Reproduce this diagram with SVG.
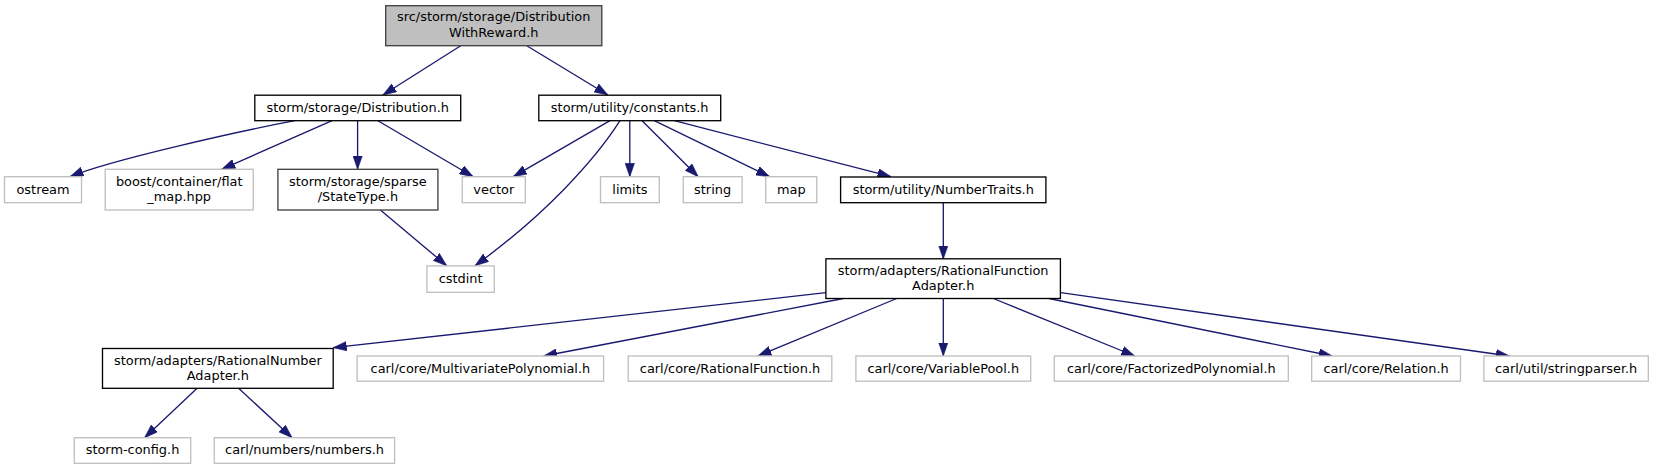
<svg xmlns="http://www.w3.org/2000/svg" width="1653" height="469" viewBox="0 0 1653 469">
<style>
.n rect{fill:#fff;stroke:#000;stroke-width:1.33}
.n.g rect{stroke:#bfbfbf}
.n.d rect{stroke:#404040}
.n.r rect{fill:#bfbfbf;stroke:#404040}
text{font-family:"DejaVu Sans",sans-serif;font-size:12.9px;text-anchor:middle;fill:#000}
.e path{fill:none;stroke:#191970;stroke-width:1.33}
</style>
<defs>
<marker id="ah" markerUnits="userSpaceOnUse" markerWidth="14" markerHeight="10" viewBox="0 0 14 10" refX="13.5" refY="5" orient="auto">
<path d="M0,0.3 L13.5,5 L0,9.7 z" fill="#191970" stroke="#191970" stroke-width="0.6"/>
</marker>
</defs>
<rect width="1653" height="469" fill="#fff"/>
<g id="edges" class="e">
<path marker-end="url(#ah)" d="M460.7,45.7 L382.9,95"/>
<path marker-end="url(#ah)" d="M526.8,45.7 L607.9,95"/>
<path marker-end="url(#ah)" d="M295,120.7 C240,131 110,160 70,176.7"/>
<path marker-end="url(#ah)" d="M332.1,120.7 L221.7,169.3"/>
<path marker-end="url(#ah)" d="M357.6,120.7 L357.6,169.3"/>
<path marker-end="url(#ah)" d="M377.9,120.7 L473.2,176.7"/>
<path marker-end="url(#ah)" d="M380.4,210 L446.7,265.7"/>
<path marker-end="url(#ah)" d="M610,120.7 L513.3,176.7"/>
<path marker-end="url(#ah)" d="M620,120.7 C595,160 545,215 475,265.7"/>
<path marker-end="url(#ah)" d="M629.8,120.7 L629.8,176.7"/>
<path marker-end="url(#ah)" d="M642.1,120.7 L698.2,176.7"/>
<path marker-end="url(#ah)" d="M654.3,120.7 L769.6,176.7"/>
<path marker-end="url(#ah)" d="M674.3,120.7 L891,176.7"/>
<path marker-end="url(#ah)" d="M943.3,202.7 L943.3,259"/>
<path marker-end="url(#ah)" d="M825.9,292.7 L333.2,347.7"/>
<path marker-end="url(#ah)" d="M843.3,298.5 L543.6,356"/>
<path marker-end="url(#ah)" d="M896.7,298.5 L757.9,356"/>
<path marker-end="url(#ah)" d="M943.3,298.5 L943.3,356"/>
<path marker-end="url(#ah)" d="M993.3,298.5 L1134.8,356"/>
<path marker-end="url(#ah)" d="M1048.9,298.5 L1332.2,356"/>
<path marker-end="url(#ah)" d="M1060.7,292.7 L1509.5,356"/>
<path marker-end="url(#ah)" d="M197.1,388.3 L144.6,437.7"/>
<path marker-end="url(#ah)" d="M238.6,388.3 L292.1,437.7"/>
</g>
<g id="root" class="n r"><rect x="385.7" y="5.7" width="216.1" height="40"/><text x="493.7" y="21.3">src/storm/storage/Distribution</text><text x="493.7" y="37">WithReward.h</text></g>
<g id="distribution" class="n"><rect x="254.8" y="95.2" width="205.9" height="25.5"/><text x="357.7" y="112">storm/storage/Distribution.h</text></g>
<g id="constants" class="n"><rect x="538.8" y="95.2" width="181.9" height="25.5"/><text x="629.7" y="112">storm/utility/constants.h</text></g>
<g id="ostream" class="n g"><rect x="4.5" y="176.7" width="77" height="26"/><text x="43" y="193.5">ostream</text></g>
<g id="flat_map" class="n g"><rect x="105.2" y="169.3" width="148" height="40.7"/><text x="179.2" y="185.5">boost/container/flat</text><text x="179.2" y="201">_map.hpp</text></g>
<g id="statetype" class="n d"><rect x="277.9" y="169.3" width="160" height="40.7"/><text x="357.9" y="185.5">storm/storage/sparse</text><text x="357.9" y="201">/StateType.h</text></g>
<g id="vector" class="n g"><rect x="462.3" y="176.7" width="63" height="26"/><text x="493.8" y="193.5">vector</text></g>
<g id="limits" class="n g"><rect x="600.5" y="176.7" width="58.8" height="26"/><text x="629.9" y="193.5">limits</text></g>
<g id="string" class="n g"><rect x="683.2" y="176.7" width="58.9" height="26"/><text x="712.6" y="193.5">string</text></g>
<g id="map" class="n g"><rect x="765.7" y="176.7" width="51.1" height="26"/><text x="791.3" y="193.5">map</text></g>
<g id="numbertraits" class="n"><rect x="840.6" y="177" width="205.3" height="25.7"/><text x="943.3" y="193.8">storm/utility/NumberTraits.h</text></g>
<g id="cstdint" class="n g"><rect x="426.9" y="265.9" width="67.4" height="26.4"/><text x="460.6" y="283">cstdint</text></g>
<g id="rfa" class="n"><rect x="825.9" y="258.8" width="234.5" height="39.7"/><text x="943.2" y="274.8">storm/adapters/RationalFunction</text><text x="943.2" y="290.2">Adapter.h</text></g>
<g id="rna" class="n"><rect x="102.5" y="348.5" width="230.7" height="39.8"/><text x="217.9" y="364.5">storm/adapters/RationalNumber</text><text x="217.9" y="380">Adapter.h</text></g>
<g id="multivariate" class="n g"><rect x="357.1" y="356" width="246.5" height="25.2"/><text x="480.4" y="372.6">carl/core/MultivariatePolynomial.h</text></g>
<g id="rationalfunction" class="n g"><rect x="628.2" y="356" width="203.6" height="25.2"/><text x="730" y="372.6">carl/core/RationalFunction.h</text></g>
<g id="variablepool" class="n g"><rect x="855.9" y="356" width="174.8" height="25.2"/><text x="943.3" y="372.6">carl/core/VariablePool.h</text></g>
<g id="factorized" class="n g"><rect x="1054.3" y="356" width="234" height="25.2"/><text x="1171.3" y="372.6">carl/core/FactorizedPolynomial.h</text></g>
<g id="relation" class="n g"><rect x="1311.7" y="356" width="148.8" height="25.2"/><text x="1386.1" y="372.6">carl/core/Relation.h</text></g>
<g id="stringparser" class="n g"><rect x="1483.9" y="356" width="164.4" height="25.2"/><text x="1566.1" y="372.6">carl/util/stringparser.h</text></g>
<g id="stormconfig" class="n g"><rect x="74.3" y="437.7" width="116.4" height="25.6"/><text x="132.5" y="454.4">storm-config.h</text></g>
<g id="numbers" class="n g"><rect x="214.3" y="437.7" width="180.3" height="25.6"/><text x="304.5" y="454.4">carl/numbers/numbers.h</text></g>
</svg>
